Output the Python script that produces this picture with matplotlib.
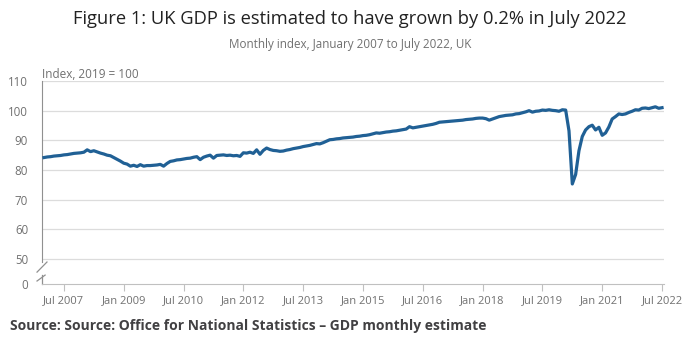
import matplotlib
matplotlib.use("Agg")
import matplotlib.pyplot as plt
import numpy as np

# monthly GDP index, 2019 = 100, Jan 2007 .. Jul 2022
gdp_2007 = [84.2, 84.4, 84.5, 84.7, 84.8, 84.9, 85.1, 85.2, 85.4, 85.6, 85.7, 85.8]
gdp_2008 = [86.0, 86.8, 86.2, 86.5, 86.1, 85.7, 85.4, 85.0, 84.8, 84.2, 83.6, 83.0]
gdp_2009 = [82.3, 82.0, 81.3, 81.6, 81.2, 81.8, 81.3, 81.5, 81.5, 81.6, 81.7, 81.9]
gdp_2010 = [81.3, 82.2, 82.9, 83.1, 83.4, 83.5, 83.7, 83.9, 84.0, 84.3, 84.5, 83.5]
gdp_2011 = [84.3, 84.7, 85.0, 84.0, 84.9, 85.0, 85.1, 84.9, 85.0, 84.8, 84.9, 84.6]
gdp_2012 = [85.8, 85.7, 86.0, 85.6, 86.8, 85.3, 86.6, 87.4, 86.9, 86.6, 86.5, 86.3]
gdp_2013 = [86.4, 86.7, 86.9, 87.2, 87.4, 87.6, 87.9, 88.1, 88.3, 88.6, 88.9, 88.8]
gdp_2014 = [89.2, 89.7, 90.2, 90.3, 90.5, 90.6, 90.8, 90.9, 91.0, 91.1, 91.3, 91.4]
gdp_2015 = [91.6, 91.7, 91.9, 92.2, 92.5, 92.4, 92.6, 92.8, 92.9, 93.1, 93.2, 93.4]
gdp_2016 = [93.6, 93.8, 94.6, 94.2, 94.4, 94.6, 94.8, 95.0, 95.2, 95.4, 95.7, 96.1]
gdp_2017 = [96.2, 96.3, 96.4, 96.5, 96.6, 96.7, 96.8, 97.0, 97.1, 97.2, 97.4, 97.5]
gdp_2018 = [97.5, 97.3, 96.8, 97.2, 97.6, 98.0, 98.2, 98.4, 98.5, 98.6, 98.9, 99.0]
gdp_2019 = [99.3, 99.6, 100.0, 99.5, 99.8, 99.9, 100.2, 100.1, 100.3, 100.1, 100.0, 99.8]
gdp_2020 = [100.3, 100.2, 93.2, 75.3, 78.5, 86.5, 91.3, 93.5, 94.6, 95.1, 93.5, 94.4]
gdp_2021 = [91.7, 92.5, 94.5, 97.2, 98.0, 98.9, 98.7, 98.9, 99.4, 99.8, 100.3, 100.2]
gdp_2022 = [100.8, 100.9, 100.7, 101.0, 101.3, 100.8, 101.0]

gdp = (gdp_2007 + gdp_2008 + gdp_2009 + gdp_2010 + gdp_2011 + gdp_2012 + gdp_2013
       + gdp_2014 + gdp_2015 + gdp_2016 + gdp_2017 + gdp_2018 + gdp_2019
       + gdp_2020 + gdp_2021 + gdp_2022)

tick_labels = ["Jul 2007", "Jan 2009", "Jul 2010", "Jan 2012", "Jul 2013", "Jan 2015",
               "Jul 2016", "Jan 2018", "Jul 2019", "Jan 2021", "Jul 2022"]
y_ticks = [50, 60, 70, 80, 90, 100, 110]

plt.rcParams["font.family"] = ["Open Sans", "DejaVu Sans"]

grey = "#707070"
axis_grey = "#909090"
line_col = "#206095"

fig = plt.figure(figsize=(7.0, 3.53), dpi=100)
ax = fig.add_axes([0.06, 0.1955, 0.8886, 0.5751])

months = np.arange(len(gdp))
ax.plot(months, gdp, color=line_col, linewidth=2.3, solid_joinstyle="round", zorder=3)

# broken y axis: 0 sits just below 50
y_zero = 41.6
ax.set_ylim(y_zero, 110)
ax.set_xlim(-0.6, 186.6)

ax.set_yticks([y_zero] + y_ticks)
ax.set_yticklabels(["0"] + [str(v) for v in y_ticks])
for v in y_ticks:
    ax.axhline(v, color="#dcdcdc", linewidth=0.9, zorder=1)

ax.set_xticks(np.arange(6, 187, 18))
ax.set_xticklabels(tick_labels)

ax.tick_params(axis="y", length=0, labelsize=8.3, labelcolor=grey, pad=10)
ax.tick_params(axis="x", length=5, color="#c0c0c0", labelsize=8, labelcolor=grey, pad=3)

for s in ["top", "right"]:
    ax.spines[s].set_visible(False)
ax.spines["bottom"].set_color("#c0c0c0")
ax.spines["left"].set_color(axis_grey)
ax.spines["left"].set_bounds(49.0, 110)

# lower stub of the axis and the break slashes
trans = ax.get_yaxis_transform()
ax.plot([0, 0], [y_zero, 44.6], transform=trans, color=axis_grey, lw=0.9, clip_on=False)
ax.plot([-0.008, 0.008], [45.6, 49.0], transform=trans, color=axis_grey, lw=0.9, clip_on=False)
ax.plot([-0.008, 0.005], [42.6, 44.6], transform=trans, color=axis_grey, lw=0.9, clip_on=False)

ax.text(0.0, 1.0 + 6 / 203, "Index, 2019 = 100", transform=ax.transAxes, ha="left", va="center",
        fontsize=8.5, color=grey)

fig.text(0.5, 0.946, "Figure 1: UK GDP is estimated to have grown by 0.2% in July 2022",
         ha="center", va="center", fontsize=13.2, color="#222222")
fig.text(0.5, 0.874, "Monthly index, January 2007 to July 2022, UK",
         ha="center", va="center", fontsize=8.4, color=grey)
fig.text(0.0143, 0.0765, "Source: Source: Office for National Statistics \u2013 GDP monthly estimate",
         ha="left", va="center", fontsize=10, fontweight="bold", color="#414042")

fig.savefig("out.png", dpi=100)
